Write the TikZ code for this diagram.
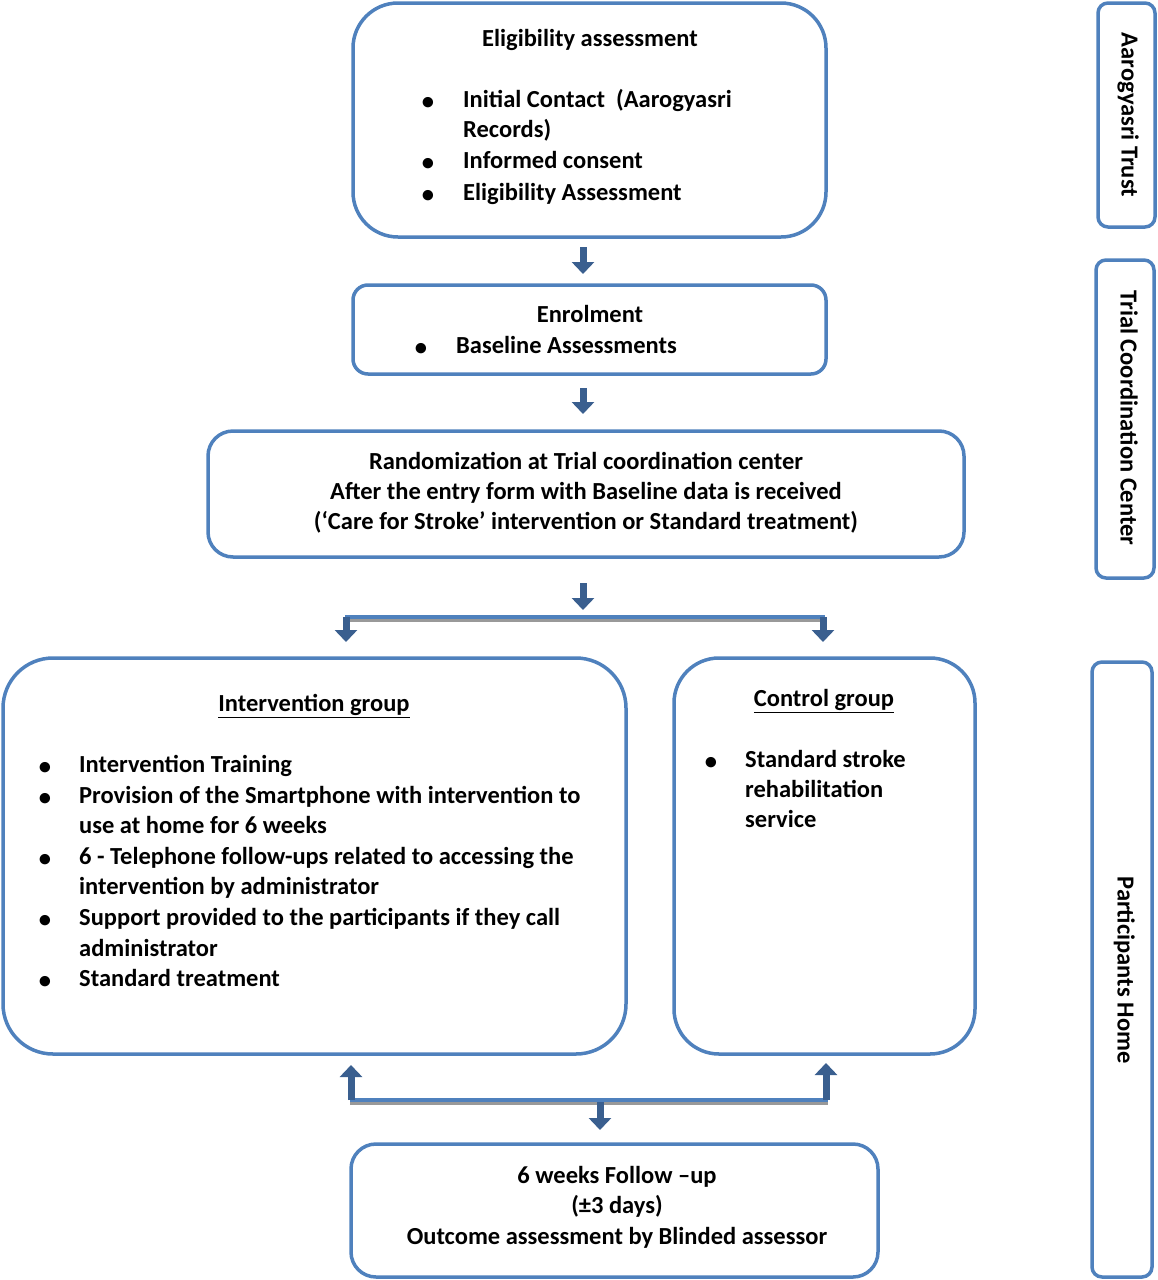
\documentclass[tikz,border=0pt]{standalone}
\usepackage{fontspec}
\setmainfont{Carlito}
\usetikzlibrary{arrows.meta}
\definecolor{boxblue}{HTML}{4F81BD}
\definecolor{arrblue}{HTML}{3A5F8F}
\begin{document}
\begin{tikzpicture}[x=1pt,y=-1pt,
  box/.style={draw=boxblue,line width=3.5pt,fill=white,inner sep=0pt},
  tfont/.style={font=\fontsize{24.5}{30}\selectfont\bfseries,inner sep=0pt},
  lt/.style={tfont,anchor=mid west,yshift=-6pt},
  ct/.style={tfont,anchor=mid,yshift=-6pt},
  bul/.style={tfont,anchor=mid,yshift=-6pt},
  blk/.style={draw=arrblue,line width=7pt,-{Triangle[width=22pt,length=12pt]}},
  bar/.style={draw=boxblue,line width=4pt},
  shadowbar/.style={draw=gray!80,line width=3pt},
  side/.style={tfont,rotate=-90,anchor=mid}]
\useasboundingbox (0,0) rectangle (1157,1280);
% boxes
\node[box,rounded corners=45pt,minimum width=473pt,minimum height=234pt] (elig) at (589.5,120) {};
\node[box,rounded corners=15pt,minimum width=473pt,minimum height=89pt] (enrol) at (589.5,329.5) {};
\node[box,rounded corners=25pt,minimum width=756pt,minimum height=126pt] (rand) at (586,494) {};
\node[box,rounded corners=50pt,minimum width=623pt,minimum height=396pt] (interv) at (314.5,856) {};
\node[box,rounded corners=45pt,minimum width=301pt,minimum height=396pt] (ctrl) at (824.5,856) {};
\node[box,rounded corners=25pt,minimum width=527pt,minimum height=133pt] (follow) at (614.5,1210.5) {};
\node[box,rounded corners=10pt,minimum width=57pt,minimum height=224pt] (s1) at (1126.5,115) {};
\node[box,rounded corners=10pt,minimum width=58pt,minimum height=318pt] (s2) at (1125,419) {};
\node[box,rounded corners=10pt,minimum width=60pt,minimum height=615pt] (s3) at (1122,969.5) {};
% side labels
\node[side] (s1t) at (1124,115) {Aarogyasri Trust};
\node[side] (s2t) at (1123,418) {Trial Coordination Center};
\node[side] (s3t) at (1120,970) {Participants Home};
% eligibility
\node[ct] (e0) at (590,38) {Eligibility assessment};
\node[bul] (eb1) at (428,101) {\textbullet};
\node[lt] (e1) at (463,99) {Initial Contact~ (Aarogyasri};
\node[lt] (e1b) at (463,129) {Records)};
\node[bul] (eb2) at (428,162) {\textbullet};
\node[lt] (e2) at (463,160) {Informed consent};
\node[bul] (eb3) at (428,194) {\textbullet};
\node[lt] (e3) at (463,192) {Eligibility Assessment};
% enrolment
\node[ct] (n0) at (590,314) {Enrolment};
\node[bul] (nb1) at (421,347) {\textbullet};
\node[lt] (n1) at (456,345) {Baseline Assessments};
% randomization
\node[ct] (r1) at (586,461) {Randomization at Trial coordination center};
\node[ct] (r2) at (586,491) {After the entry form with Baseline data is received};
\node[ct] (r3) at (586,521) {(‘Care for Stroke’ intervention or Standard treatment)};
% intervention
\node[ct] (i0) at (314,703) {\underline{Intervention group}};
\node[bul] (ib1) at (45,766) {\textbullet};
\node[lt] (i1) at (79,764) {Intervention Training};
\node[bul] (ib2) at (45,797) {\textbullet};
\node[lt] (i2) at (79,795) {Provision of the Smartphone with intervention to};
\node[lt] (i2b) at (79,825) {use at home for 6 weeks};
\node[bul] (ib3) at (45,858) {\textbullet};
\node[lt] (i3) at (79,856) {6 - Telephone follow-ups related to accessing the};
\node[lt] (i3b) at (79,886) {intervention by administrator};
\node[bul] (ib4) at (45,919) {\textbullet};
\node[lt] (i4) at (79,917) {Support provided to the participants if they call};
\node[lt] (i4b) at (79,948) {administrator};
\node[bul] (ib5) at (45,980) {\textbullet};
\node[lt] (i5) at (79,978) {Standard treatment};
% control
\node[ct] (c0) at (824,698) {\underline{Control group}};
\node[bul] (cb1) at (711,761) {\textbullet};
\node[lt] (c1) at (745,759) {Standard stroke};
\node[lt] (c1b) at (745,789) {rehabilitation};
\node[lt] (c1c) at (745,819) {service};
% follow-up
\node[ct] (f1) at (617,1175) {6 weeks Follow –up};
\node[ct] (f2) at (617,1205) {(±3 days)};
\node[ct] (f3) at (617,1236) {Outcome assessment by Blinded assessor};
% arrows
\coordinate (a1s) at (583,237);
\coordinate (a1e) at (583,285);
\draw[blk,shorten <=10pt,shorten >=11pt] (a1s) -- (a1e);
\coordinate (a2s) at (583,374);
\coordinate (a2e) at (583,431);
\draw[blk,shorten <=14pt,shorten >=17pt] (a2s) -- (a2e);
% top fork
\coordinate (a3s) at (583,557);
\coordinate (forkM) at (583,617);
\coordinate (forkL) at (345,617);
\coordinate (forkR) at (825,617);
\coordinate (iL) at (346,658);
\coordinate (cR) at (823,658);
\draw[shadowbar] ([yshift=-3.5pt]forkL) -- ([yshift=-3.5pt]forkR);
\draw[bar] (forkL) -- (forkR);
\draw[blk,shorten <=26pt,shorten >=7pt] (a3s) -- (forkM);
\draw[blk,shorten <=0pt,shorten >=16pt] ([xshift=1pt]forkL) -- (iL);
\draw[blk,shorten <=0pt,shorten >=16pt] ([xshift=-2pt]forkR) -- (cR);
% bottom join
\coordinate (joinL) at (350,1100);
\coordinate (joinR) at (828,1100);
\coordinate (joinM) at (600,1100);
\coordinate (iB) at (351,1054);
\coordinate (cB) at (826,1054);
\coordinate (fT) at (600,1144);
\draw[shadowbar] ([yshift=-3.5pt]joinL) -- ([yshift=-3.5pt]joinR);
\draw[bar] (joinL) -- (joinR);
\draw[blk,shorten >=11pt] ([xshift=1pt]joinL) -- (iB);
\draw[blk,shorten >=9pt] ([xshift=-2pt]joinR) -- (cB);
\draw[blk,shorten <=2pt,shorten >=14pt] (joinM) -- (fT);
\end{tikzpicture}
\end{document}
